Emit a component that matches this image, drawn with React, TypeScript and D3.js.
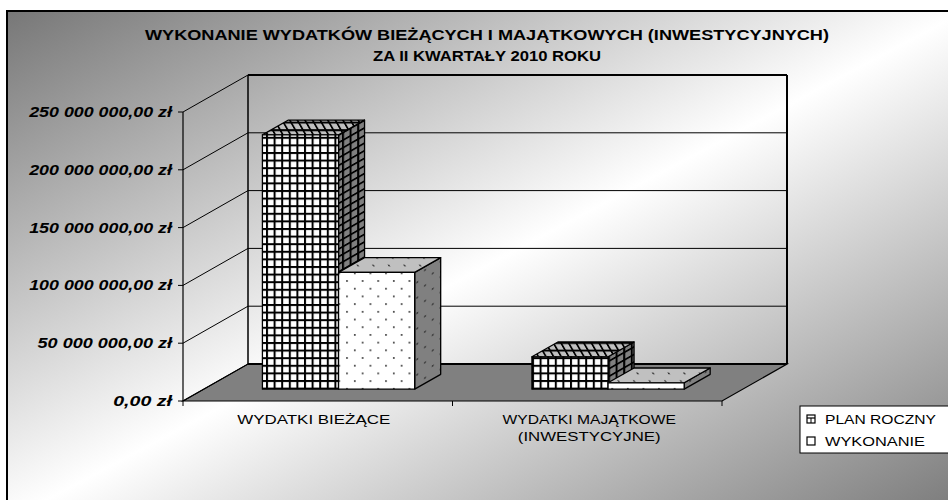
import React from 'react';
import * as d3 from 'd3';

// chart data
const categories = ['WYDATKI BIEŻĄCE', 'WYDATKI MAJĄTKOWE (INWESTYCYJNE)'];
const categoryLines = [['WYDATKI BIEŻĄCE'], ['WYDATKI MAJĄTKOWE', '(INWESTYCYJNE)']];
const seriesNames = ['PLAN ROCZNY', 'WYKONANIE'];
const planRoczny = [220000000, 28000000];
const wykonanie = [101000000, 5500000];
const yTicks = [0, 50000000, 100000000, 150000000, 200000000, 250000000];
const titleLines = ['WYKONANIE WYDATKÓW BIEŻĄCYCH I MAJĄTKOWYCH (INWESTYCYJNYCH)', 'ZA II KWARTAŁY 2010 ROKU'];

const FONT = '"Liberation Sans", Arial, sans-serif';

const formatZl = (v: number) => {
  const s = d3.format(',.2f')(v);
  return s.replace(/,/g, ' ').replace('.', ',') + ' zł';
};

export default function App() {
  const W = 948;
  const H = 500;

  // plot geometry (front plane)
  const x0 = 183;
  const x1 = 722;
  const depth = { x: 65, y: -37 };
  const fFront = 0.32;
  const fBack = 0.72;

  const x = d3.scaleBand<string>().domain(categories).range([x0, x1]).paddingInner(0).paddingOuter(0);
  const xs = d3.scaleBand<string>().domain(seriesNames).range([0, x.bandwidth()]).paddingInner(0).paddingOuter(0.77);
  const y = d3.scaleLinear().domain([0, 250000000]).range([401, 112]);

  const dxF = depth.x * fFront;
  const dyF = depth.y * fFront;
  const dxB = depth.x * fBack;
  const dyB = depth.y * fBack;

  const pts = (arr: number[][]) => arr.map(p => p.join(',')).join(' ');

  const values = [planRoczny, wykonanie];
  const patIds = ['grid', 'dots'];

  const bars: React.ReactNode[] = [];
  categories.forEach((c, ci) => {
    seriesNames.forEach((s, si) => {
      const v = values[si][ci];
      const bx = (x(c) as number) + (xs(s) as number);
      const bw = xs.bandwidth();
      const yb = y(0);
      const yt = y(v);
      const fx = bx + dxF;
      const fyT = yt + dyF;
      const fyB = yb + dyF;
      const ox = dxB - dxF;
      const oy = dyB - dyF;
      const p = patIds[si];
      bars.push(
        <g key={`${ci}-${si}`} stroke="#000" strokeWidth={1.3} strokeLinejoin="round">
          <polygon points={pts([[fx + bw, fyT], [fx + bw + ox, fyT + oy], [fx + bw + ox, fyB + oy], [fx + bw, fyB]])} fill={`url(#${p}-side)`} />
          <polygon points={pts([[fx, fyT], [fx + ox, fyT + oy], [fx + bw + ox, fyT + oy], [fx + bw, fyT]])} fill={`url(#${p}-top)`} />
          <rect x={fx} y={fyT} width={bw} height={fyB - fyT} fill={`url(#${p}-front)`} />
        </g>
      );
    });
  });

  const gridPattern = (id: string, bg: string, transform?: string) => (
    <pattern id={id} width={7.6} height={7.6} patternUnits="userSpaceOnUse" patternTransform={transform}>
      <rect width={7.6} height={7.6} fill={bg} />
      <line x1={1} y1={0} x2={1} y2={7.6} stroke="#000" strokeWidth={2} />
      <line x1={0} y1={1} x2={7.6} y2={1} stroke="#000" strokeWidth={2} />
    </pattern>
  );
  const dotPattern = (id: string, bg: string, transform?: string) => (
    <pattern id={id} width={15.6} height={15.4} patternUnits="userSpaceOnUse" patternTransform={transform}>
      <rect width={15.6} height={15.4} fill={bg} />
      <rect x={3} y={3} width={1.6} height={1.6} fill="#222" />
      <rect x={10.8} y={10.7} width={1.6} height={1.6} fill="#222" />
    </pattern>
  );
  const skewAngle = (Math.atan2(dyB - dyF, dxB - dxF) * 180) / Math.PI;

  const backX0 = x0 + depth.x;
  const backX1 = x1 + depth.x;

  return (
    <svg width={W} height={H} style={{ position: 'absolute', left: 0, top: 0 }} fontFamily={FONT}>
      <defs>
        <linearGradient id="bg" x1="0" y1="0" x2="1" y2="1">
          <stop offset="0" stopColor="#777" />
          <stop offset="0.5" stopColor="#ffffff" />
          <stop offset="1" stopColor="#777" />
        </linearGradient>
        {gridPattern('grid-front', '#fff')}
        {gridPattern('grid-side', '#808080', `skewY(${skewAngle})`)}
        {gridPattern('grid-top', '#c0c0c0', `skewX(${-skewAngle})`)}
        {dotPattern('dots-front', '#fff')}
        {dotPattern('dots-side', '#808080', `skewY(${skewAngle})`)}
        {dotPattern('dots-top', '#c0c0c0', `skewX(${-skewAngle})`)}
      </defs>

      {/* chart area */}
      <rect x={7} y={11} width={W + 10} height={H + 10} fill="url(#bg)" stroke="#000" strokeWidth={2} />

      {/* title */}
      {titleLines.map((t, i) => (
        <text key={t} x={487} y={40 + i * 21} textAnchor="middle" fontSize={14} fontWeight="bold"
          textLength={i === 0 ? 684 : 228} lengthAdjust="spacingAndGlyphs">{t}</text>
      ))}

      {/* floor */}
      <polygon points={pts([[x0, y(0)], [x1, y(0)], [backX1, y(0) + depth.y], [backX0, y(0) + depth.y]])}
        fill="#808080" stroke="#000" strokeWidth={1.2} />

      {/* walls and gridlines */}
      {yTicks.map(t => (
        <g key={t}>
          <line x1={x0} y1={y(t)} x2={backX0} y2={y(t) + depth.y} stroke="#000" strokeWidth={1} />
          {t > 0 && (
            <line x1={backX0} y1={y(t) + depth.y} x2={backX1} y2={y(t) + depth.y} stroke="#000"
              strokeWidth={t === 250000000 ? 2 : 1} />
          )}
          <line x1={x0 - 5} y1={y(t)} x2={x0} y2={y(t)} stroke="#000" strokeWidth={1} />
          <text x={172} y={y(t) + 5} textAnchor="end" fontSize={14} fontWeight="bold" fontStyle="italic"
            textLength={formatZl(t).length * 8.4} lengthAdjust="spacingAndGlyphs">{formatZl(t)}</text>
        </g>
      ))}
      <line x1={x0} y1={y(0)} x2={x0} y2={y(250000000)} stroke="#000" strokeWidth={1.2} />
      <line x1={backX0} y1={y(0) + depth.y} x2={backX0} y2={y(250000000) + depth.y} stroke="#000" strokeWidth={1.5} />
      <line x1={backX1} y1={y(0) + depth.y} x2={backX1} y2={y(250000000) + depth.y} stroke="#000" strokeWidth={2} />
      <line x1={backX0} y1={y(0) + depth.y} x2={backX1} y2={y(0) + depth.y} stroke="#000" strokeWidth={2} />

      {/* category ticks */}
      {[x0, ...categories.map(c => (x(c) as number) + x.bandwidth())].map(v => (
        <line key={v} x1={v} y1={y(0)} x2={v} y2={y(0) + 5} stroke="#000" strokeWidth={1} />
      ))}

      {bars}

      {/* category labels */}
      {categoryLines.map((lines, ci) => (
        lines.map((l, li) => (
          <text key={l} x={(x(categories[ci]) as number) + x.bandwidth() / 2 - 4 + (ci === 1 ? 6 : 0)} y={424 + li * 17}
            textAnchor="middle" fontSize={13} textLength={l.length * 10.2} lengthAdjust="spacingAndGlyphs">{l}</text>
        ))
      ))}

      {/* legend */}
      <rect x={800} y={406} width={150} height={47} fill="#fff" stroke="#000" strokeWidth={1} />
      <g>
        <rect x={807} y={415} width={8} height={8} fill="#fff" stroke="#000" strokeWidth={1.2} />
        <line x1={807} y1={418} x2={815} y2={418} stroke="#000" strokeWidth={1.2} />
        <line x1={811} y1={418} x2={811} y2={423} stroke="#000" strokeWidth={1} />
        <rect x={807} y={437} width={8} height={8} fill="#fff" stroke="#000" strokeWidth={1.2} />
        {seriesNames.map((s, i) => (
          <text key={s} x={825} y={424 + i * 22} fontSize={13}
            textLength={i === 0 ? 111 : 100} lengthAdjust="spacingAndGlyphs">{s}</text>
        ))}
      </g>
    </svg>
  );
}
